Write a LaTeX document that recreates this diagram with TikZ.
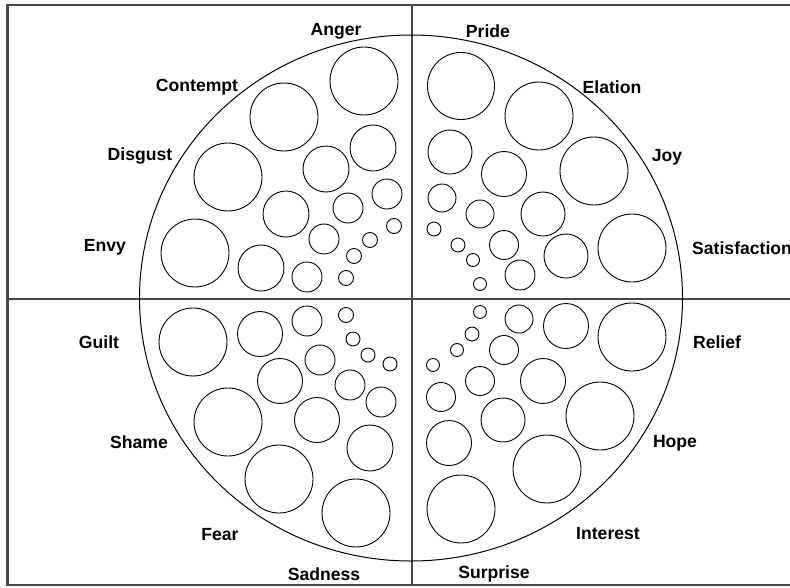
\documentclass[tikz,border=0pt]{standalone}
\usepackage{fontspec}
\setmainfont{Liberation Sans}
\usetikzlibrary{shapes.geometric}
\begin{document}
\begin{tikzpicture}[x=1pt,y=-1pt,
 bubble/.style={circle,draw=black,line width=0.9pt,inner sep=0pt,minimum size=#1},
 lab/.style={font=\bfseries\fontsize{17.6}{19}\selectfont,inner sep=0pt},
 frame/.style={draw=black!72,line width=2.2pt}]
\useasboundingbox (0,0) rectangle (790,587);
\clip (0,0) rectangle (790,587);
\fill[white] (0,0) rectangle (790,587);
% frame and axes
\coordinate (tl) at (7.5,5);
\coordinate (br) at (800,585);
\coordinate (vt) at (412.3,5);
\coordinate (vb) at (412.3,585);
\coordinate (hl) at (7.5,299);
\coordinate (hr) at (800,299);
\draw[frame] (tl) rectangle (br);
\draw[frame] (vt) -- (vb);
\draw[frame] (hl) -- (hr);
% wheel
\node[draw=black,line width=1pt,ellipse,minimum width=543,minimum height=526,inner sep=0pt] (wheel) at (411,298) {};
% bubbles: name/x/y/diameter
\foreach \n/\x/\y/\d in {
 an1/364/81/68, an2/373/148/46, an3/387/194/30, an4/394/226/15,
 co1/284/117/68, co2/326/169/46, co3/348/208/30, co4/370/240/15,
 di1/228/177/68, di2/286/214/46, di3/324/239/30, di4/354/256/15,
 en1/195/253/68, en2/261/268/46, en3/307/277/30, en4/346/278/15,
 pr1/461/86/67, pr2/450/152/44, pr3/442/198/28, pr4/434/229/14,
 el1/539/116/68, el2/504/174/45, el3/480/214/28, el4/458/245/14,
 jo1/594/171/68, jo2/543/214/44, jo3/504/245/29, jo4/473/260/13,
 sa1/632/248/68, sa2/566/256/44, sa3/520/275/30, sa4/480/284/13,
 gu1/193/342/68, gu2/260/334/45, gu3/307/321/30, gu4/346/315/15,
 sh1/228/422/68, sh2/280/381/45, sh3/320/360/30, sh4/353/339/14,
 fe1/279/479/68, fe2/317/420/45, fe3/350/385/30, fe4/368/355/14,
 sd1/356/513/68, sd2/370/448/46, sd3/381/402/30, sd4/390/364/14,
 re1/632/337/68, re2/566/326/45, re3/519/319/28, re4/480/312/13,
 ho1/600/416/68, ho2/543/381/45, ho3/504/350/29, ho4/472/334/14,
 in1/547/469/68, in2/503/420/44, in3/480/381/29, in4/457/350/13,
 su1/461/509/68, su2/449/443/45, su3/441/397/29, su4/433/365/13}
 \node[bubble=\d] (\n) at (\x,\y) {};
% labels
\node[lab] (lAnger) at (336,31) {Anger};
\node[lab] (lContempt) at (197,87) {Contempt};
\node[lab] (lDisgust) at (140,156) {Disgust};
\node[lab] (lEnvy) at (105,247) {Envy};
\node[lab] (lPride) at (488,31) {Pride};
\node[lab] (lElation) at (612,87) {Elation};
\node[lab] (lJoy) at (667,157) {Joy};
\node[lab,anchor=west] (lSatisfaction) at (692,248) {Satisfaction};
\node[lab] (lGuilt) at (99,342) {Guilt};
\node[lab] (lShame) at (139,442) {Shame};
\node[lab] (lFear) at (220,535) {Fear};
\node[lab] (lSadness) at (324,574) {Sadness};
\node[lab] (lRelief) at (717,342) {Relief};
\node[lab] (lHope) at (675,443) {Hope};
\node[lab] (lInterest) at (608,534) {Interest};
\node[lab] (lSurprise) at (494,574) {Surprise};
\end{tikzpicture}
\end{document}
